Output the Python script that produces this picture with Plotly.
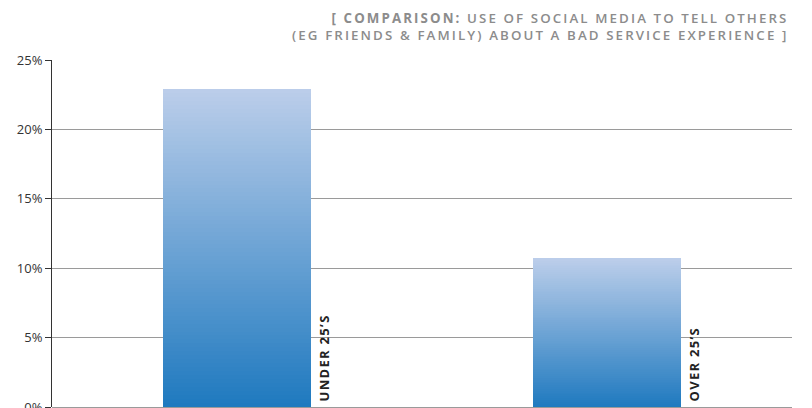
import plotly.graph_objects as go

categories = ["UNDER 25’S", "OVER 25’S"]
values = [22.9, 10.7]
tick_vals = [0, 5, 10, 15, 20, 25]
tick_text = ["0%", "5%", "10%", "15%", "20%", "25%"]
title_bold = "[ COMPARISON:"
title_line1 = " USE OF SOCIAL MEDIA TO TELL OTHERS"
title_line2 = "(EG FRIENDS &amp; FAMILY) ABOUT A BAD SERVICE EXPERIENCE ]"

N = 80
top_rgb = (188, 206, 234)
bot_rgb = (30, 121, 191)

xs = list(range(len(categories)))
fig = go.Figure()
for k in range(N):
    t = (k + 0.5) / N
    c = tuple(round(bot_rgb[j] + (top_rgb[j] - bot_rgb[j]) * t) for j in range(3))
    col = "rgb(%d,%d,%d)" % c
    fig.add_trace(go.Bar(
        x=xs, y=[v / N for v in values], width=0.4,
        marker=dict(color=col, line=dict(width=0)),
        showlegend=False, hoverinfo="skip",
    ))

for i, name in enumerate(categories):
    fig.add_annotation(
        x=i + 0.2, y=0, xref="x", yref="y",
        text='<span style="letter-spacing:1.3px"><b>' + name + "</b></span>",
        textangle=-90, xanchor="left", yanchor="bottom", showarrow=False,
        xshift=1, yshift=3,
        font=dict(family="Open Sans", size=13, color="#222222"),
    )

ls = 'style="letter-spacing:2.1px"'
fig.add_annotation(
    x=1, y=1, xref="paper", yref="paper", xanchor="right", yanchor="bottom",
    align="right", showarrow=False, xshift=-2, yshift=14,
    text=("<span " + ls + "><b>" + title_bold + "</b>" + title_line1 + "</span><br>"
          "<span " + ls + ">" + title_line2 + "</span>"),
    font=dict(family="Open Sans", size=13.3, color="#8c8c8c", weight=600),
)

fig.update_layout(
    barmode="stack",
    width=812, height=408,
    margin=dict(l=52, r=20, t=60, b=1),
    plot_bgcolor="white", paper_bgcolor="white",
    xaxis=dict(range=[-0.5, 1.5], visible=False),
    yaxis=dict(
        range=[0, 25], tickvals=tick_vals, ticktext=tick_text,
        showgrid=True, gridcolor="#9a9a9a", gridwidth=1,
        zeroline=True, zerolinecolor="#9a9a9a", zerolinewidth=1,
        showline=True, linecolor="#333333", linewidth=1,
        ticks="outside", ticklen=6, tickcolor="#333333",
        tickfont=dict(family="Open Sans", size=13, color="#333333"),
        automargin=False, ticklabeloverflow="allow",
    ),
    font=dict(family="Open Sans"),
)

fig.write_html("out.html")
